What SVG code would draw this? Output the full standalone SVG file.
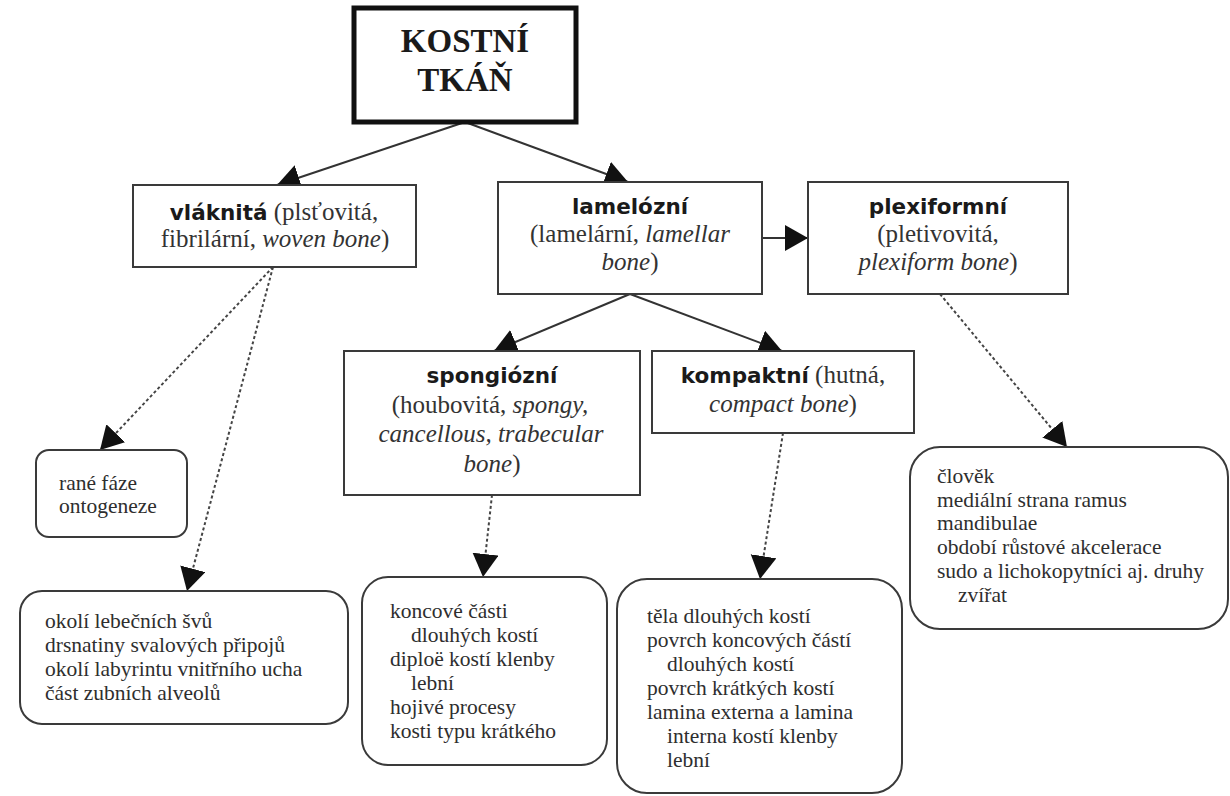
<svg xmlns="http://www.w3.org/2000/svg" width="1230" height="796" viewBox="0 0 1230 796">
<defs>
<style>
.box{fill:#fff;stroke:#3a3a3a;stroke-width:2}
.root{fill:#fff;stroke:#111;stroke-width:5}
.ttl{font-family:'DejaVu Sans',Verdana,sans-serif;font-weight:bold;font-size:21.5px;fill:#1a1a1a}
.sr{font-family:'Liberation Serif','Times New Roman',serif;font-weight:normal;font-size:25px;fill:#333}
.it{font-style:italic}
.lst{font-family:'Liberation Serif','Times New Roman',serif;font-size:21.5px;fill:#2e2e2e}
.rt{font-family:'Liberation Serif','Times New Roman',serif;font-weight:bold;font-size:33px;fill:#1a1a1a}
.sol{stroke:#333;stroke-width:2;fill:none}
.dot{stroke:#444;stroke-width:2;fill:none;stroke-dasharray:3 2.5}
</style>
<marker id="ah" markerUnits="userSpaceOnUse" markerWidth="26" markerHeight="28" refX="23" refY="13" orient="auto" viewBox="0 0 26 28">
<path d="M0,0 L23,13 L0,26 z" fill="#111"/>
</marker>
</defs>
<rect width="1230" height="796" fill="#fff"/>

<g id="connectors">
<line class="sol" x1="465" y1="122" x2="277" y2="185" marker-end="url(#ah)"/>
<line class="sol" x1="465" y1="122" x2="628" y2="182" marker-end="url(#ah)"/>
<line class="sol" x1="630" y1="294" x2="494" y2="351" marker-end="url(#ah)"/>
<line class="sol" x1="630" y1="294" x2="782" y2="351" marker-end="url(#ah)"/>
<line class="sol" x1="762" y1="238" x2="808" y2="238" marker-end="url(#ah)"/>
<line class="dot" x1="273" y1="267" x2="100" y2="450" marker-end="url(#ah)"/>
<line class="dot" x1="273" y1="267" x2="187" y2="591" marker-end="url(#ah)"/>
<line class="dot" x1="492" y1="495" x2="483" y2="577" marker-end="url(#ah)"/>
<line class="dot" x1="783" y1="433" x2="760" y2="579" marker-end="url(#ah)"/>
<line class="dot" x1="940" y1="294" x2="1067" y2="447" marker-end="url(#ah)"/>
</g>

<g id="kostni-tkan">
<rect class="root" x="354" y="8" width="222" height="114"/>
<text class="rt" x="465" y="52" text-anchor="middle">KOSTNÍ</text>
<text class="rt" x="465" y="91" text-anchor="middle">TKÁŇ</text>
</g>

<g id="vlaknita">
<rect class="box" x="133" y="185" width="283" height="82"/>
<text x="274" y="220" text-anchor="middle"><tspan class="ttl">vláknitá</tspan><tspan class="sr"> (plsťovitá,</tspan></text>
<text class="sr" x="275" y="247" text-anchor="middle">fibrilární, <tspan class="it">woven bone</tspan>)</text>
</g>

<g id="lamelozni">
<rect class="box" x="498" y="182" width="264" height="112"/>
<text class="ttl" x="630" y="214" text-anchor="middle">lamelózní</text>
<text class="sr" x="630" y="242" text-anchor="middle">(lamelární, <tspan class="it">lamellar</tspan></text>
<text class="sr" x="630" y="270" text-anchor="middle"><tspan class="it">bone</tspan>)</text>
</g>

<g id="plexiformni">
<rect class="box" x="808" y="182" width="260" height="112"/>
<text class="ttl" x="938" y="214" text-anchor="middle">plexiformní</text>
<text class="sr" x="938" y="242" text-anchor="middle">(pletivovitá,</text>
<text class="sr" x="938" y="270" text-anchor="middle"><tspan class="it">plexiform bone</tspan>)</text>
</g>

<g id="spongiozni">
<rect class="box" x="344" y="351" width="296" height="144"/>
<text class="ttl" x="492" y="383" text-anchor="middle">spongiózní</text>
<text class="sr" x="490" y="413" text-anchor="middle">(houbovitá, <tspan class="it">spongy,</tspan></text>
<text class="sr it" x="491" y="442" text-anchor="middle">cancellous, trabecular</text>
<text class="sr" x="492" y="472" text-anchor="middle"><tspan class="it">bone</tspan>)</text>
</g>

<g id="kompaktni">
<rect class="box" x="652" y="351" width="262" height="82"/>
<text x="783" y="383" text-anchor="middle"><tspan class="ttl">kompaktní</tspan><tspan class="sr"> (hutná,</tspan></text>
<text class="sr" x="783" y="412" text-anchor="middle"><tspan class="it">compact bone</tspan>)</text>
</g>

<g id="rane-faze">
<rect class="box" x="36" y="450" width="151" height="87" rx="13"/>
<text class="lst" x="59" y="490">rané fáze</text>
<text class="lst" x="59" y="513">ontogeneze</text>
</g>

<g id="okoli">
<rect class="box" x="20" y="591" width="328" height="133" rx="22"/>
<text class="lst" x="45" y="628">okolí lebečních švů</text>
<text class="lst" x="45" y="652">drsnatiny svalových připojů</text>
<text class="lst" x="45" y="676">okolí labyrintu vnitřního ucha</text>
<text class="lst" x="45" y="700">část zubních alveolů</text>
</g>

<g id="koncove">
<rect class="box" x="362" y="577" width="245" height="188" rx="26"/>
<text class="lst" x="390" y="618">koncové části</text>
<text class="lst" x="411" y="642">dlouhých kostí</text>
<text class="lst" x="390" y="666">diploë kostí klenby</text>
<text class="lst" x="411" y="690">lební</text>
<text class="lst" x="390" y="714">hojivé procesy</text>
<text class="lst" x="390" y="738">kosti typu krátkého</text>
</g>

<g id="tela">
<rect class="box" x="617" y="579" width="285" height="214" rx="30"/>
<text class="lst" x="647" y="623">těla dlouhých kostí</text>
<text class="lst" x="647" y="647">povrch koncových částí</text>
<text class="lst" x="667" y="671">dlouhých kostí</text>
<text class="lst" x="647" y="695">povrch krátkých kostí</text>
<text class="lst" x="647" y="719">lamina externa a lamina</text>
<text class="lst" x="667" y="743">interna kostí klenby</text>
<text class="lst" x="667" y="767">lební</text>
</g>

<g id="clovek">
<rect class="box" x="910" y="447" width="318" height="182" rx="30"/>
<text class="lst" x="937" y="483">člověk</text>
<text class="lst" x="937" y="507">mediální strana ramus</text>
<text class="lst" x="937" y="530">mandibulae</text>
<text class="lst" x="937" y="554">období růstové akcelerace</text>
<text class="lst" x="937" y="578">sudo a lichokopytníci aj. druhy</text>
<text class="lst" x="958" y="602">zvířat</text>
</g>
</svg>
